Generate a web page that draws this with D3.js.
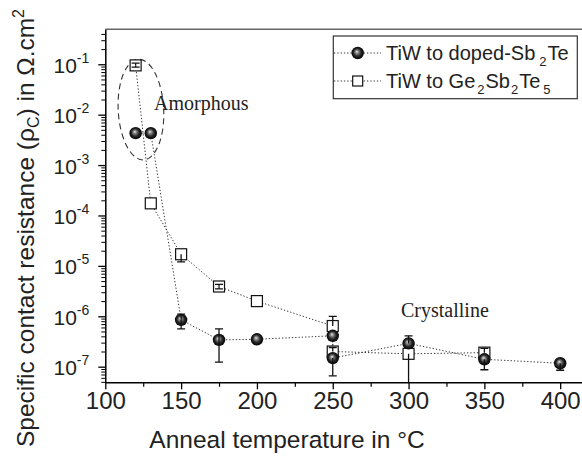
<!DOCTYPE html>
<html><head><meta charset="utf-8">
<script src="https://cdn.jsdelivr.net/npm/d3@7"></script>
<style>body{margin:0;background:#fff}svg{display:block}</style>
</head><body>
<svg id="c" width="582" height="457"></svg>
<script>
// ---- data ----
const temps1 = [120,130,150,175,200,250,250,300,350,400];
const rho1   = [4.3e-3,4.3e-3,8.5e-7,3.4e-7,3.5e-7,4.1e-7,1.48e-7,2.9e-7,1.4e-7,1.17e-7];
const rho1Lo = [null,null,5.6e-7,1.23e-7,null,null,6.6e-8,null,8.7e-8,8.5e-8];
const rho1Hi = [null,null,1.1e-6,5.6e-7,null,null,null,4.1e-7,null,null];
const temps2 = [120,130,150,175,200,250,250,300,350];
const rho2   = [0.095,1.74e-4,1.7e-5,3.9e-6,2.0e-6,6.4e-7,2.0e-7,1.8e-7,1.9e-7];
const rho2Lo = [0.088,null,1.2e-5,3.5e-6,null,null,null,2e-8,null];
const rho2Hi = [0.105,null,null,4.3e-6,null,1.0e-6,2.4e-7,null,2.3e-7];
const xTicks = [100,150,200,250,300,350,400];
const xMinorTicks = [125,175,225,275,325,375];
const yTickExps = [-7,-6,-5,-4,-3,-2,-1];
const seriesNames = [["TiW to doped-Sb",["2"],"Te"],["TiW to Ge","2","Sb","2","Te","5"]];

const svg = d3.select("#c");
const x = d3.scaleLinear().domain([100,415.7]).range([105.3,584]);
const y = d3.scaleLog().domain([4.9e-8,0.494]).range([382.3,29.3]);

svg.append("defs").append("clipPath").attr("id","clip")
  .append("rect").attr("x",105).attr("y",29).attr("width",480).attr("height",353.3);
const grad = svg.select("defs").append("radialGradient").attr("id","ball")
  .attr("cx","0.5").attr("cy","0.5").attr("r","0.5").attr("fx","0.42").attr("fy","0.38");
grad.append("stop").attr("offset","0").attr("stop-color","#e8e8e8");
grad.append("stop").attr("offset","0.25").attr("stop-color","#8a8a8a");
grad.append("stop").attr("offset","0.6").attr("stop-color","#2a2a2a");
grad.append("stop").attr("offset","1").attr("stop-color","#000");

// top frame
svg.append("line").attr("x1",105.3).attr("x2",584).attr("y1",29.3).attr("y2",29.3)
  .attr("stroke","#666").attr("stroke-width",1.5);

// x axis
const xAxis = svg.append("g").attr("transform","translate(0,382.3)")
  .call(d3.axisBottom(x).tickValues(xTicks).tickSize(7).tickSizeOuter(0).tickFormat(d3.format("d")));
xAxis.select(".domain").attr("stroke","#000").attr("stroke-width",1.5);
xAxis.selectAll(".tick line").attr("stroke","#000").attr("stroke-width",1.3);
xAxis.selectAll(".tick text").attr("font-family","Liberation Sans, Arial, sans-serif")
  .attr("font-size",24).attr("fill","#222").attr("y",10).attr("dy","0.71em");
svg.append("g").attr("transform","translate(0,382.3)")
  .call(d3.axisBottom(x).tickValues(xMinorTicks).tickSize(4.5).tickFormat(""))
  .call(g=>{g.select(".domain").remove();g.selectAll("line").attr("stroke","#000").attr("stroke-width",1.2);});

// y axis
const yAxis = svg.append("g").attr("transform","translate(105.3,0)")
  .call(d3.axisLeft(y).tickValues(yTickExps.map(e=>Math.pow(10,e))).tickSize(7).tickSizeOuter(0).tickFormat(""));
yAxis.select(".domain").attr("stroke","#000").attr("stroke-width",1.5);
yAxis.selectAll(".tick line").attr("stroke","#000").attr("stroke-width",1.3);
const minor = [];
for (let e=-8;e<=0;e++) for (let k=2;k<=9;k++){const v=k*Math.pow(10,e); if(v>=y.domain()[0]&&v<=y.domain()[1]) minor.push(v);}
svg.append("g").attr("transform","translate(105.3,0)")
  .call(d3.axisLeft(y).tickValues(minor).tickSize(4).tickFormat(""))
  .call(g=>{g.select(".domain").remove();g.selectAll("line").attr("stroke","#000").attr("stroke-width",1);});
yAxis.selectAll(".tick").each(function(d){
  const e = Math.round(Math.log10(d));
  const t = d3.select(this).append("text").attr("x",-16).attr("y",8).attr("text-anchor","end")
    .attr("font-family","Liberation Sans, Arial, sans-serif").attr("font-size",21).attr("fill","#222");
  t.append("tspan").text("10");
  t.append("tspan").attr("dy",-10).attr("font-size",14).text(String(e).replace("-","-"));
});

// axis titles
const xt = svg.append("text").attr("x",287).attr("y",448).attr("text-anchor","middle")
  .attr("font-family","Liberation Sans, Arial, sans-serif").attr("font-size",24.5).attr("fill","#222")
  .text("Anneal temperature in °C");
const yt = svg.append("text").attr("transform","translate(34,228) rotate(-90)").attr("text-anchor","middle")
  .attr("font-family","Liberation Sans, Arial, sans-serif").attr("font-size",24.5).attr("fill","#222");
yt.append("tspan").text("Specific contact resistance (ρ");
yt.append("tspan").attr("dy",5).attr("font-size",16).text("C");
yt.append("tspan").attr("dy",-5).text(") in Ω.cm");
yt.append("tspan").attr("dy",-10).attr("font-size",16).text("2");

// plot area
const plot = svg.append("g").attr("clip-path","url(#clip)");
const line = d3.line().x(d=>x(d[0])).y(d=>y(d[1]));
const pts1 = temps1.map((t,i)=>[t,rho1[i],rho1Lo[i],rho1Hi[i]]);
const pts2 = temps2.map((t,i)=>[t,rho2[i],rho2Lo[i],rho2Hi[i]]);
[pts1,pts2].forEach(p=>plot.append("path").attr("d",line(p)).attr("fill","none")
  .attr("stroke","#333").attr("stroke-width",1).attr("stroke-dasharray","1.3,2"));

// ellipse around amorphous
const ecx = x(123.5), ecy = y(1.26e-2);
plot.append("ellipse").attr("cx",ecx).attr("cy",ecy).attr("rx",x(115)-x(100)).attr("ry",y(1e-3)-y(1e-2))
  .attr("fill","none").attr("stroke","#333").attr("stroke-width",1.1).attr("stroke-dasharray","6,4")
  .attr("transform",`rotate(-3,${ecx},${ecy})`);

function errBars(g,p){
  p.forEach(d=>{
    const cx=x(d[0]), cy=y(d[1]);
    [[d[2],d[1]],[d[3],d[1]]].forEach(([v])=>{
      if(v==null) return;
      const ey=y(v);
      g.append("line").attr("x1",cx).attr("x2",cx).attr("y1",cy).attr("y2",ey).attr("stroke","#111").attr("stroke-width",1.3);
      g.append("line").attr("x1",cx-4).attr("x2",cx+4).attr("y1",ey).attr("y2",ey).attr("stroke","#111").attr("stroke-width",1.3);
    });
  });
}
// squares
plot.selectAll("rect.sq").data(pts2).join("rect").attr("class","sq")
  .attr("x",d=>x(d[0])-5.5).attr("y",d=>y(d[1])-5.5).attr("width",11).attr("height",11)
  .attr("fill","#fff").attr("stroke","#111").attr("stroke-width",1.2);
errBars(plot,pts2);
// spheres
plot.selectAll("circle.b").data(pts1).join("circle").attr("class","b")
  .attr("cx",d=>x(d[0])).attr("cy",d=>y(d[1])).attr("r",6.2).attr("fill","url(#ball)");
errBars(plot,pts1);

// annotations
svg.append("text").attr("x",154).attr("y",110).attr("font-family","Liberation Serif, Times New Roman, serif")
  .attr("font-size",20).attr("fill","#222").text("Amorphous");
svg.append("text").attr("x",401).attr("y",316.7).attr("font-family","Liberation Serif, Times New Roman, serif")
  .attr("font-size",20).attr("fill","#222").text("Crystalline");

// legend
const lg = svg.append("g");
lg.append("rect").attr("x",333.3).attr("y",36).attr("width",244).attr("height",62.7)
  .attr("fill","#fff").attr("stroke","#333").attr("stroke-width",1.2);
const rows = [53,81];
rows.forEach((ry,i)=>{
  lg.append("line").attr("x1",334).attr("x2",381).attr("y1",ry).attr("y2",ry)
    .attr("stroke","#333").attr("stroke-width",1).attr("stroke-dasharray","1.3,2");
});
lg.append("circle").attr("cx",357.7).attr("cy",rows[0]).attr("r",6.2).attr("fill","url(#ball)");
lg.append("rect").attr("x",357.7-5).attr("y",rows[1]-5).attr("width",10).attr("height",10)
  .attr("fill","#fff").attr("stroke","#111").attr("stroke-width",1.2);
const lt = (ry)=>lg.append("text").attr("x",386).attr("y",ry+7).attr("font-family","Liberation Sans, Arial, sans-serif")
  .attr("font-size",20).attr("fill","#222");
const t1 = lt(rows[0]);
t1.append("tspan").text("TiW to doped-Sb");
t1.append("tspan").attr("dx",4).attr("dy",6).attr("font-size",13).text("2");
t1.append("tspan").attr("dx",1).attr("dy",-6).text("Te");
const t2 = lt(rows[1]);
t2.append("tspan").text("TiW to Ge");
t2.append("tspan").attr("dx",2).attr("dy",6).attr("font-size",13).text("2");
t2.append("tspan").attr("dx",1).attr("dy",-6).text("Sb");
t2.append("tspan").attr("dx",1).attr("dy",6).attr("font-size",13).text("2");
t2.append("tspan").attr("dx",1).attr("dy",-6).text("Te");
t2.append("tspan").attr("dx",3).attr("dy",6).attr("font-size",13).text("5");
</script>
</body></html>
